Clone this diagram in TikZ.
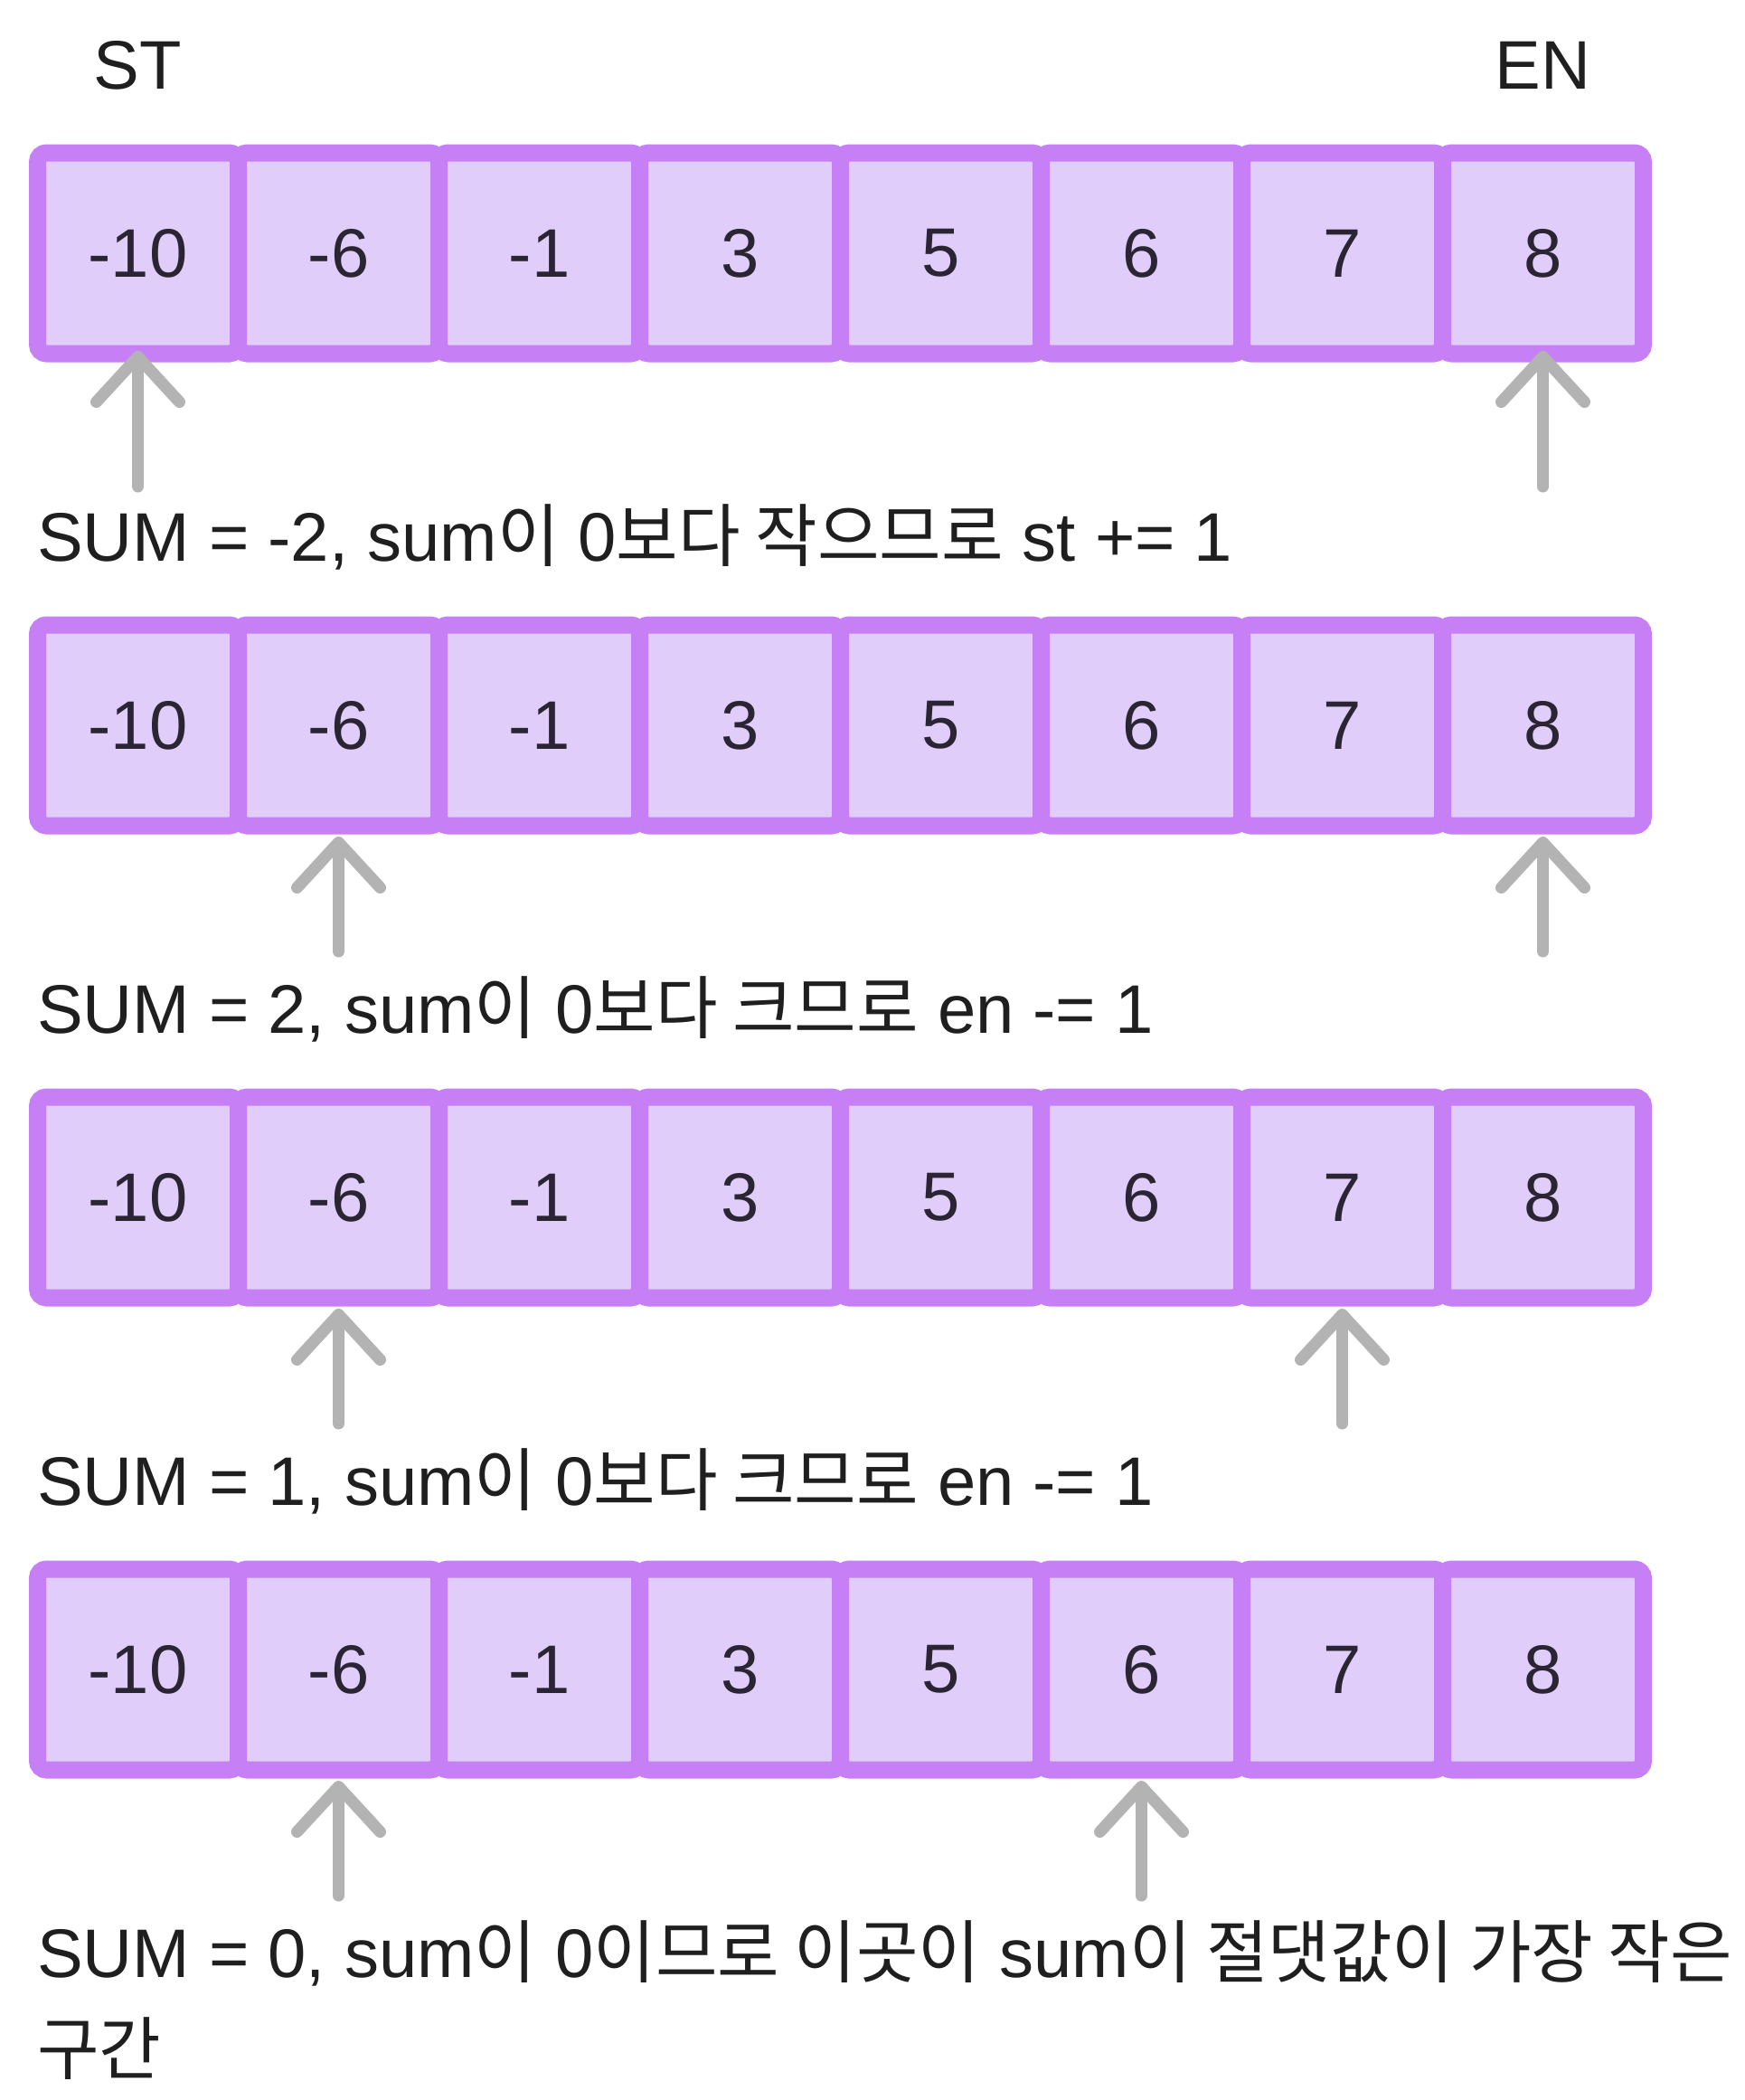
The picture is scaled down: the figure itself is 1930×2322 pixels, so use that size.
\documentclass[tikz,border=0pt]{standalone}
\usepackage{fontspec}
\setmainfont{Liberation Sans}
\newfontfamily\kofont{Noto Sans CJK KR}[FakeStretch=0.98]
\usetikzlibrary{arrows.meta, positioning, calc}
\definecolor{cellline}{HTML}{C77FF5}
\definecolor{cellfill}{HTML}{E0CDFA}
\definecolor{numtext}{HTML}{2B2533}
\definecolor{desctext}{HTML}{1F1F1F}
\definecolor{ptrgray}{HTML}{B3B3B3}
\newcommand{\cellfont}{\fontsize{76}{107}\selectfont}
\newcommand{\ko}[1]{{\kofont #1}}
\tikzset{
  cell/.style={rectangle, rounded corners=10pt, draw=cellline, fill=cellfill,
               line width=19pt, minimum width=222pt, minimum height=222pt,
               inner sep=0pt, outer sep=0pt, text=numtext, font=\cellfont},
  ptr/.style={-{Straight Barb[length=50pt, width=92pt, round]}, draw=ptrgray,
              line width=13pt, line cap=round},
  desc/.style={anchor=base west, inner sep=0pt, text=desctext, font=\cellfont,
               align=left},
}

\begin{document}
\begin{tikzpicture}[x=1pt, y=1pt]
\useasboundingbox (0,0) rectangle (1930,-2322);

% one array per step: row / st / en / tail offset / tip shorten / text drop / text
\foreach \r/\st/\en/\tl/\sh/\dy/\txt in {
    1/1/8/147/-3/0/{SUM = -2, sum\ko{이} 0\ko{보다 작으므로} st += 1},
    2/2/8/139/12/0/{SUM = 2, sum\ko{이} 0\ko{보다 크므로} en -= 1},
    3/2/7/139/12/0/{SUM = 1, sum\ko{이} 0\ko{보다 크므로} en -= 1},
    4/2/6/139/12/107/{SUM = 0, sum\ko{이} 0\ko{이므로 이곳이} sum\ko{이 절댓값이 가장 작은}\\\ko{구간}}} {
  \foreach \v [count=\i] in {-10,-6,-1,3,5,6,7,8}
    \node[cell] (c\r-\i) at ({152.5+222*(\i-1)}, {-280-522*(\r-1)}) {\v};
  \coordinate (ts\r) at ([yshift=-\tl pt]c\r-\st.south);
  \coordinate (te\r) at ([yshift=-\tl pt]c\r-\en.south);
  \draw[ptr, shorten >=\sh pt] (ts\r) -- (c\r-\st.south);
  \draw[ptr, shorten >=\sh pt] (te\r) -- (c\r-\en.south);
  \node[desc] (d\r) at (41, {-620-522*(\r-1)-\dy}) {\txt};
}

\node[desc, anchor=base] (st) at ([yshift=71pt]c1-1.north) {ST};
\node[desc, anchor=base] (en) at ([yshift=71pt]c1-8.north) {EN};
\end{tikzpicture}
\end{document}
